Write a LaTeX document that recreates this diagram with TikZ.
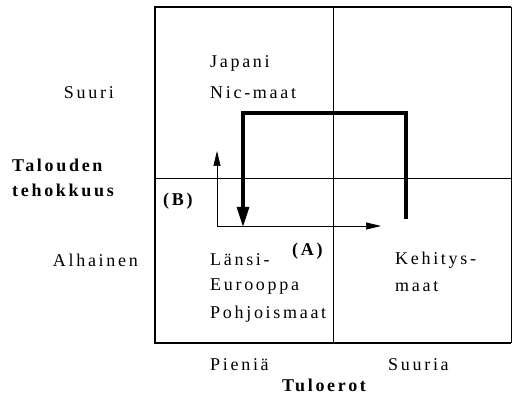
\documentclass[tikz,border=0pt]{standalone}
\usepackage{fontspec}
\setmainfont{Liberation Serif}[LetterSpace=15]
\usetikzlibrary{arrows.meta}
\begin{document}
\begin{tikzpicture}[x=1pt,y=-1pt,
  lbl/.style={inner sep=0pt,font=\fontsize{18}{20}\selectfont},
  lblL/.style={lbl,anchor=west},
  lblR/.style={lbl,anchor=east},
  bld/.style={lbl,font=\fontsize{18}{20}\selectfont\bfseries},
  grid/.style={line width=0.6pt},
  frame/.style={line width=1.4pt},
  thickarr/.style={line width=3.2pt,-{Triangle[length=20pt,width=12pt]}},
  thinarr/.style={line width=0.7pt,-{Triangle[length=15pt,width=7pt]}}]
\useasboundingbox (0,0) rectangle (512,395);
% frame and grid
\draw[frame] (511,7) -- (155,7) -- (155,343) -- (511,343);
\draw[line width=0.8pt] (511,7) -- (511,343);
\draw[grid] (333,7) -- (333,343);
\draw[grid] (155,178) -- (511,178);
% coordinates
\coordinate (ts) at (406,219);
\coordinate (t1) at (406,113);
\coordinate (t2) at (243,113);
\coordinate (te) at (243,227);
\coordinate (c) at (217,226);
\coordinate (up) at (217,151);
\coordinate (rt) at (381,226);
\draw[thickarr] (ts) -- (t1) -- (t2) -- (te);
\draw[thinarr] (c) -- (up);
\draw[thinarr] (c) -- (rt);
% labels
\node[lblL] (jap) at (210,63) {Japani};
\node[lblL] (nic) at (210,93) {Nic-maat};
\node[bld,anchor=west] (B) at (163,201) {(B)};
\node[bld,anchor=west] (A) at (292,251) {(A)};
\node[lblL] (l1) at (210,260) {Länsi-};
\node[lblL] (l2) at (210,287) {Eurooppa};
\node[lblL] (l3) at (210,314) {Pohjoismaat};
\node[lblL] (k1) at (395,260) {Kehitys-};
\node[lblL] (k2) at (395,287) {maat};
\node[lblR] (su) at (114,93) {Suuri};
\node[lblR] (al) at (138,260) {Alhainen};
\node[bld,anchor=west] (t1l) at (12,165) {Talouden};
\node[bld,anchor=west] (t2l) at (12,190) {tehokkuus};
\node[lblL] (pi) at (210,365) {Pieniä};
\node[lblL] (sr) at (388,365) {Suuria};
\node[bld] (tu) at (324,385) {Tuloerot};
\end{tikzpicture}
\end{document}
